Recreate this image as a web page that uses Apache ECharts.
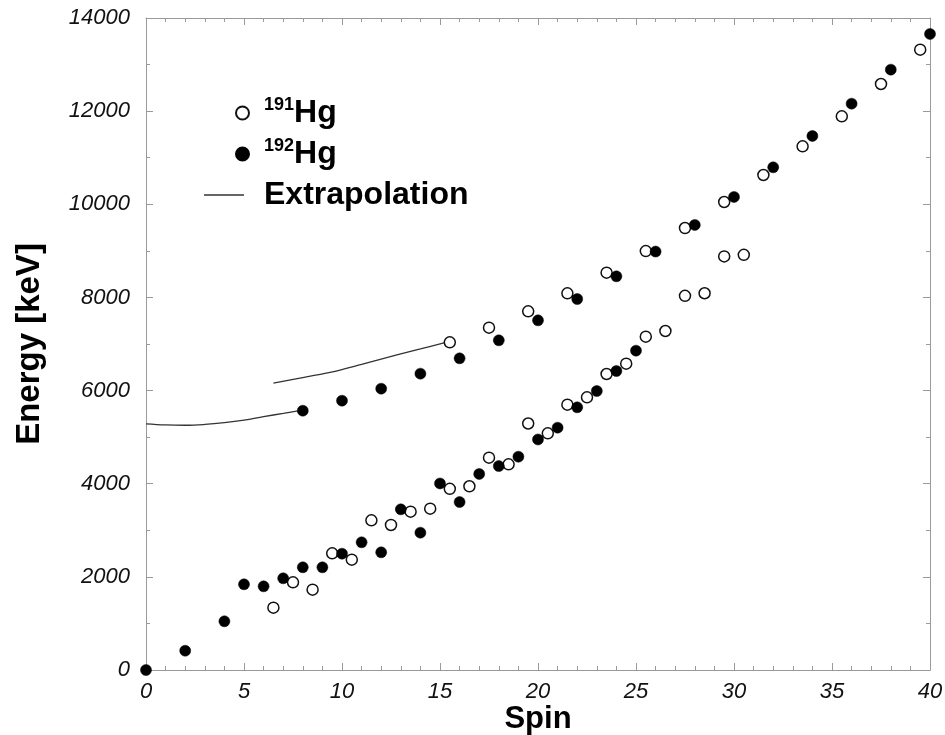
<!DOCTYPE html>
<html>
<head>
<meta charset="utf-8">
<script src="https://cdn.jsdelivr.net/npm/echarts@6/dist/echarts.min.js"></script>
<style>
html,body{margin:0;padding:0;background:#fff;}
#chart{width:945px;height:735px;}
</style>
</head>
<body>
<div id="chart"></div>
<script>
// ---- Data (spin, energy in keV) ----
const hg191Lower = [[6.5,1338],[7.5,1883],[8.5,1725],[9.5,2505],[10.5,2369],[11.5,3214],[12.5,3114],[13.5,3400],[14.5,3464],[15.5,3890],[16.5,3945],[17.5,4560],[18.5,4416],[19.5,5293],[20.5,5082],[21.5,5697],[22.5,5855],[23.5,6356],[24.5,6578],[25.5,7158],[26.5,7279],[27.5,8035],[28.5,8090],[29.5,8880],[30.5,8915]];
const hg191Upper = [[15.5,7036],[17.5,7351],[19.5,7702],[21.5,8088],[23.5,8532],[25.5,8995],[27.5,9490],[29.5,10049],[31.5,10629],[33.5,11245],[35.5,11889],[37.5,12583],[39.5,13320]];
const hg192Lower = [[0,0],[2,414],[4,1046],[5,1840],[6,1797],[7,1969],[8,2205],[9,2205],[10,2497],[11,2742],[12,2527],[13,3450],[14,2949],[15,4005],[16,3607],[17,4209],[18,4380],[19,4580],[20,4950],[21,5204],[22,5640],[23,5991],[24,6420],[25,6857]];
const hg192Upper = [[8,5568],[10,5783],[12,6041],[14,6363],[16,6692],[18,7079],[20,7508],[22,7966],[24,8453],[26,8985],[28,9556],[30,10157],[32,10794],[34,11467],[36,12161],[38,12891],[40,13657]];
const extrapA = [[0,5285],[1,5262],[2,5255],[3,5272],[4,5310],[5,5365],[6,5440],[7,5510],[7.75,5565]];
const extrapB = [[6.5,6160],[8,6280],[9.7,6420],[11,6560],[12.8,6765],[14,6895],[15.3,7036]];
const xTicks = {min:0, max:40, interval:5};
const yTicks = {min:0, max:14000, interval:2000};

const FONT = '"Liberation Sans", Arial, Helvetica, sans-serif';
const AX = '#9a9a9a';

function mkAxis(extra, showLabels, minorSplit, labelMargin){
  return Object.assign({
    type:'value',
    axisLine:{show:true, onZero:false, lineStyle:{color:AX, width:1}},
    axisTick:{show:true, inside:true, length:7, lineStyle:{color:AX}},
    minorTick:{show:true, splitNumber:minorSplit, length:4, lineStyle:{color:AX}},
    splitLine:{show:false},
    nameMoveOverlap:false,
    axisLabel:{show:showLabels, fontFamily:FONT, fontStyle:'italic', fontSize:22, color:'#111',
      margin:labelMargin, formatter:function(v){return String(v);}}
  }, extra);
}

const chart = echarts.init(document.getElementById('chart'), null, {renderer:'canvas'});
const legendRich = {
  sup:{fontFamily:FONT, fontWeight:'bold', fontSize:18, color:'#000', verticalAlign:'top', lineHeight:18},
  b:{fontFamily:FONT, fontWeight:'bold', fontSize:32, color:'#000', lineHeight:34}
};
chart.setOption({
  animation:false,
  backgroundColor:'#fff',
  grid:{left:146, right:15, top:18, bottom:65, containLabel:false, outerBoundsMode:'none'},
  legend:[
    {
      data:['191Hg','192Hg'], orient:'vertical', left:235, top:96, padding:0,
      itemWidth:13, itemHeight:13, itemGap:8,
      formatter:function(n){ return '{sup|' + n.slice(0,3) + '}{b|Hg}'; },
      textStyle:{padding:[0,0,0,10], rich:legendRich}
    },
    {
      data:['Extrapolation'], orient:'vertical', left:204, top:179, padding:0,
      icon:'rect', itemWidth:40, itemHeight:1.4,
      itemStyle:{color:'#333', borderWidth:0},
      formatter:function(n){ return '{b|' + n + '}'; },
      textStyle:{padding:[0,0,0,15], rich:legendRich}
    }
  ],
  xAxis:[
    mkAxis({position:'bottom', min:xTicks.min, max:xTicks.max, interval:xTicks.interval,
      name:'Spin', nameLocation:'middle', nameGap:34,
      nameTextStyle:{fontFamily:FONT, fontWeight:'bold', fontSize:31, color:'#000'}}, true, 5, 11),
    mkAxis({position:'top', min:xTicks.min, max:xTicks.max, interval:xTicks.interval}, false, 5, 8)
  ],
  yAxis:[
    mkAxis({position:'left', min:yTicks.min, max:yTicks.max, interval:yTicks.interval,
      name:'Energy [keV]', nameLocation:'middle', nameGap:100, nameRotate:90,
      nameTextStyle:{fontFamily:FONT, fontWeight:'bold', fontSize:33, color:'#000'}}, true, 2, 16),
    mkAxis({position:'right', min:yTicks.min, max:yTicks.max, interval:yTicks.interval}, false, 2, 8)
  ],
  series:[
    {name:'Extrapolation', type:'line', data:extrapA, smooth:0.4, symbol:'none', color:'#333',
      lineStyle:{color:'#333', width:1.3}, itemStyle:{color:'#333'}, z:2},
    {name:'Extrapolation', type:'line', data:extrapB, smooth:0.4, symbol:'none', color:'#333',
      lineStyle:{color:'#333', width:1.3}, itemStyle:{color:'#333'}, z:2},
    {name:'191Hg', type:'scatter', data:hg191Lower.concat(hg191Upper), symbol:'circle', symbolSize:11,
      itemStyle:{color:'#fff', borderColor:'#111', borderWidth:1.5, opacity:1}, z:3},
    {name:'192Hg', type:'scatter', data:hg192Lower.concat(hg192Upper), symbol:'circle', symbolSize:11,
      itemStyle:{color:'#000', borderColor:'#000', borderWidth:0.5, opacity:1}, z:4}
  ]
});
</script>
</body>
</html>
